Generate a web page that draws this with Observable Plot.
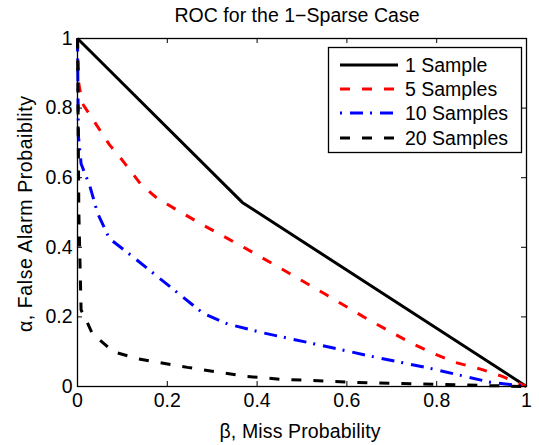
<!DOCTYPE html>
<html>
<head>
<meta charset="utf-8">
<script src="https://cdn.jsdelivr.net/npm/d3@7"></script>
<script src="https://cdn.jsdelivr.net/npm/@observablehq/plot@0.6"></script>
<style>
  html, body { margin: 0; padding: 0; background: #fff; }
</style>
</head>
<body>
<div id="chart"></div>
<script>
// ---- data ----
const title = "ROC for the 1\u2212Sparse Case";
const xLabel = "\u03b2, Miss Probability";
const yLabel = "\u03b1, False Alarm Probaiblity";
const seriesNames = ["1 Sample", "5 Samples", "10 Samples", "20 Samples"];

const s1Beta  = [0, 0.367, 1];
const s1Alpha = [1, 0.529, 0];

const s5Beta  = [0, 0.003, 0.01, 0.038, 0.071, 0.10, 0.14, 0.178, 0.274, 0.37, 0.456, 0.556, 0.648, 0.746, 0.793, 0.842, 0.898, 0.946, 1];
const s5Alpha = [1, 0.87, 0.815, 0.76, 0.695, 0.65, 0.583, 0.54, 0.468, 0.40, 0.337, 0.262, 0.192, 0.123, 0.095, 0.069, 0.05, 0.029, 0];

const s10Beta  = [0, 0.002, 0.008, 0.027, 0.045, 0.071, 0.125, 0.28, 0.334, 0.41, 0.526, 0.657, 0.786, 0.853, 0.92, 1];
const s10Alpha = [1, 0.72, 0.64, 0.578, 0.497, 0.425, 0.371, 0.21, 0.18, 0.155, 0.123, 0.086, 0.052, 0.032, 0.012, 0];

const s20Beta  = [0, 0.003, 0.008, 0.016, 0.033, 0.08, 0.133, 0.245, 0.37, 0.45, 0.615, 0.8, 0.9, 1];
const s20Alpha = [1, 0.5, 0.22, 0.2, 0.152, 0.10, 0.08, 0.055, 0.03, 0.021, 0.012, 0.006, 0.003, 0];

const xTicks = [0, 0.2, 0.4, 0.6, 0.8, 1];
const xTickLabels = ["0", "0.2", "0.4", "0.6", "0.8", "1"];
const yTicks = [0, 0.2, 0.4, 0.6, 0.8, 1];
const yTickLabels = ["0", "0.2", "0.4", "0.6", "0.8", "1"];

// ---- layout ----
const W = 539, H = 445;
const mL = 77, mR = 13, mT = 38, mB = 59;
const innerW = W - mL - mR, innerH = H - mT - mB;
const tickLen = 5;
const fontSize = 19.5;
const fontFamily = "'Liberation Sans', Arial, Helvetica, sans-serif";

const styles = [
  {stroke: "black", dash: null},
  {stroke: "#ff0000", dash: "10,12"},
  {stroke: "#0000ff", dash: "13,7,2,8"},
  {stroke: "black", dash: "10,12"}
];

const toRows = (bs, as) => bs.map((b, i) => ({beta: b, alpha: as[i]}));
const series = [
  toRows(s1Beta, s1Alpha),
  toRows(s5Beta, s5Alpha),
  toRows(s10Beta, s10Alpha),
  toRows(s20Beta, s20Alpha)
];

const lineMarks = series.map((rows, i) => Plot.line(rows, {
  x: "beta", y: "alpha",
  stroke: styles[i].stroke,
  strokeWidth: 3,
  strokeDasharray: styles[i].dash,
  strokeLinejoin: "miter",
  strokeLinecap: "butt"
}));

const chart = Plot.plot({
  width: W, height: H,
  marginLeft: mL, marginRight: mR, marginTop: mT, marginBottom: mB,
  style: {fontSize: fontSize + "px", fontFamily, background: "white", color: "black"},
  x: {domain: [0, 1], axis: null},
  y: {domain: [0, 1], axis: null},
  marks: [
    ...lineMarks,
    Plot.frame({stroke: "black", strokeWidth: 1.3}),
    // inward ticks on all four sides
    Plot.tickX(xTicks, {x: d => d, stroke: "black", strokeWidth: 1, insetTop: innerH - tickLen}),
    Plot.tickX(xTicks, {x: d => d, stroke: "black", strokeWidth: 1, insetBottom: innerH - tickLen}),
    Plot.tickY(yTicks, {y: d => d, stroke: "black", strokeWidth: 1, insetRight: innerW - tickLen}),
    Plot.tickY(yTicks, {y: d => d, stroke: "black", strokeWidth: 1, insetLeft: innerW - tickLen}),
    // tick labels
    Plot.text(xTicks, {x: d => d, frameAnchor: "bottom", dy: 20, text: (d, i) => xTickLabels[i], fill: "black"}),
    Plot.text(yTicks, {y: d => d, frameAnchor: "left", dx: -5, textAnchor: "end", text: (d, i) => yTickLabels[i], fill: "black"})
  ]
});

document.getElementById("chart").appendChild(chart);

const svg = d3.select(chart);

// title
svg.append("text")
  .attr("x", 297).attr("y", 15)
  .attr("text-anchor", "middle").attr("dominant-baseline", "central")
  .attr("textLength", 245).attr("lengthAdjust", "spacing")
  .attr("fill", "black").text(title);

// x label
svg.append("text")
  .attr("x", 300).attr("y", 431)
  .attr("text-anchor", "middle").attr("dominant-baseline", "central")
  .attr("textLength", 161).attr("lengthAdjust", "spacing")
  .attr("fill", "black").text(xLabel);

// y label
svg.append("text")
  .attr("transform", "translate(25,214) rotate(-90)")
  .attr("text-anchor", "middle").attr("dominant-baseline", "central")
  .attr("textLength", 236).attr("lengthAdjust", "spacing")
  .attr("fill", "black").text(yLabel);

// legend
const lg = svg.append("g");
lg.append("rect")
  .attr("x", 328.5).attr("y", 47.5).attr("width", 193).attr("height", 105)
  .attr("fill", "white").attr("stroke", "black").attr("stroke-width", 1.3);
const rowY = [65, 89, 113, 138];
seriesNames.forEach((name, i) => {
  const l = lg.append("line")
    .attr("x1", 340).attr("x2", 398).attr("y1", rowY[i]).attr("y2", rowY[i])
    .attr("stroke", styles[i].stroke).attr("stroke-width", 3);
  if (styles[i].dash) l.attr("stroke-dasharray", i === 2 ? "2,8,13,7" : "10,12");
  lg.append("text")
    .attr("x", 405).attr("y", rowY[i])
    .attr("text-anchor", "start")
    .attr("dominant-baseline", "central")
    .attr("fill", "black").text(name);
});

// enforce font on every text
svg.selectAll("text")
  .style("font-size", fontSize + "px")
  .style("font-family", fontFamily);
</script>
</body>
</html>
